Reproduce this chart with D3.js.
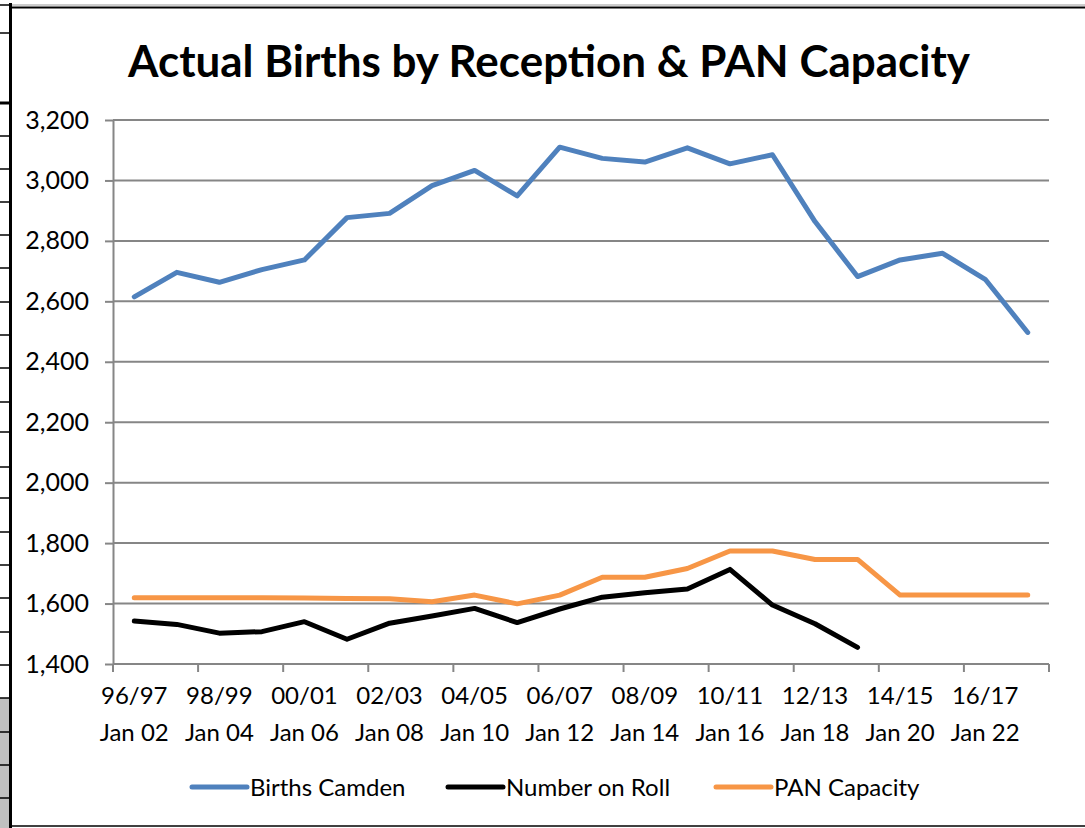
<!DOCTYPE html>
<html>
<head>
<meta charset="utf-8">
<script src="https://cdn.jsdelivr.net/npm/d3@7"></script>
<style>
  html, body { margin: 0; padding: 0; background: #fff; }
  svg { display: block; }
  text { font-family: Lato, "Open Sans", sans-serif; fill: #000; }
</style>
</head>
<body>
<svg id="chart" width="1085" height="828"></svg>
<script>
// school year of birth cohort / reception intake (Jan)
const birthYears = ["96/97","97/98","98/99","99/00","00/01","01/02","02/03","03/04","04/05","05/06",
  "06/07","07/08","08/09","09/10","10/11","11/12","12/13","13/14","14/15","15/16","16/17","17/18"];
const intakes = ["Jan 02","Jan 03","Jan 04","Jan 05","Jan 06","Jan 07","Jan 08","Jan 09","Jan 10","Jan 11",
  "Jan 12","Jan 13","Jan 14","Jan 15","Jan 16","Jan 17","Jan 18","Jan 19","Jan 20","Jan 21","Jan 22","Jan 23"];

const birthsCamden = [2615, 2696, 2663, 2705, 2737, 2877, 2891, 2983, 3033, 2949, 3110,
  3073, 3061, 3108, 3055, 3085, 2864, 2682, 2737, 2759, 2673, 2497];
const numberOnRoll = [1542, 1531, 1502, 1507, 1540, 1482, 1535, 1559, 1584, 1537, 1582,
  1621, 1636, 1648, 1713, 1595, 1533, 1455, null, null, null, null];
const panCapacity = [1619, 1619, 1619, 1619, 1618, 1617, 1616, 1606, 1628, 1599, 1628,
  1687, 1687, 1716, 1774, 1774, 1746, 1746, 1628, 1628, 1628, 1628];

const yTicks = [1400, 1600, 1800, 2000, 2200, 2400, 2600, 2800, 3000, 3200];

const series = [
  { name: "Births Camden", values: birthsCamden, color: "#4F81BD" },
  { name: "Number on Roll", values: numberOnRoll, color: "#000000" },
  { name: "PAN Capacity", values: panCapacity, color: "#F79646" }
];

const svg = d3.select("#chart");
const gridColor = "#868686";

// spreadsheet frame around the chart
const frame = svg.append("g");
frame.append("rect").attr("x", 0).attr("y", 698).attr("width", 10).attr("height", 130).attr("fill", "#c0c0c0");
[5, 33, 103, 136, 169, 202, 235, 268, 302, 335, 368, 402, 432, 467, 498, 532, 565, 598, 632, 665, 698, 732, 765, 798]
  .forEach(yy => {
    frame.append("line").attr("x1", 0).attr("x2", 10).attr("y1", yy).attr("y2", yy)
      .attr("stroke", "#000").attr("stroke-width", yy === 103 ? 3 : 1.5);
  });
frame.append("line").attr("x1", 10).attr("x2", 1085).attr("y1", 5).attr("y2", 5).attr("stroke", "#999").attr("stroke-width", 1);
frame.append("line").attr("x1", 10).attr("x2", 1085).attr("y1", 7.5).attr("y2", 7.5).attr("stroke", "#000").attr("stroke-width", 2);
frame.append("line").attr("x1", 10).attr("x2", 1085).attr("y1", 826).attr("y2", 826).attr("stroke", "#000").attr("stroke-width", 1.5);
frame.append("line").attr("x1", 10.5).attr("x2", 10.5).attr("y1", 3).attr("y2", 828).attr("stroke", "#000").attr("stroke-width", 3);

// plot area
const plotLeft = 113, plotRight = 1049, plotTop = 120, plotBottom = 664;

const x = d3.scaleBand().domain(d3.range(birthYears.length)).range([plotLeft, plotRight]);
const y = d3.scaleLinear().domain([1400, 3200]).range([plotBottom, plotTop]);

// gridlines
svg.append("g").selectAll("line").data(yTicks.slice(1)).join("line")
  .attr("x1", plotLeft).attr("x2", plotRight)
  .attr("y1", d => y(d)).attr("y2", d => y(d))
  .attr("stroke", gridColor).attr("stroke-width", 2);

// y axis
const yAxis = svg.append("g").attr("transform", `translate(${plotLeft},0)`)
  .call(d3.axisLeft(y).tickValues(yTicks).tickFormat(d3.format(",")).tickSizeInner(8).tickSizeOuter(0).tickPadding(16));
yAxis.select(".domain").attr("stroke", gridColor).attr("stroke-width", 2);
yAxis.selectAll(".tick line").attr("stroke", gridColor).attr("stroke-width", 2);
yAxis.selectAll(".tick text").attr("font-size", 25).attr("font-family", "Lato, sans-serif").attr("fill", "#000");

// x axis
const xg = svg.append("g");
xg.append("line").attr("x1", plotLeft).attr("x2", plotRight).attr("y1", plotBottom).attr("y2", plotBottom)
  .attr("stroke", gridColor).attr("stroke-width", 2);
const boundaries = d3.range(0, birthYears.length + 1, 2);
xg.selectAll(".xt").data(boundaries).join("line").attr("class", "xt")
  .attr("x1", i => i < birthYears.length ? x(i) : x.range()[1])
  .attr("x2", i => i < birthYears.length ? x(i) : x.range()[1])
  .attr("y1", plotBottom).attr("y2", plotBottom + 8)
  .attr("stroke", gridColor).attr("stroke-width", 2);
// every other category labelled, centred on its category
const labelIdx = d3.range(0, birthYears.length, 2);
const xl = xg.selectAll(".xl").data(labelIdx).join("text").attr("class", "xl")
  .attr("text-anchor", "middle").attr("font-size", 24);
xl.append("tspan").attr("x", i => x(i) + x.bandwidth() / 2).attr("y", 704).text(i => birthYears[i]);
xl.append("tspan").attr("x", i => x(i) + x.bandwidth() / 2).attr("y", 741).text(i => intakes[i]);

// lines
const line = d3.line()
  .defined(d => d != null)
  .x((d, i) => x(i) + x.bandwidth() / 2)
  .y(d => y(d));

svg.append("g").selectAll("path").data(series).join("path")
  .attr("d", s => line(s.values))
  .attr("fill", "none")
  .attr("stroke", s => s.color)
  .attr("stroke-width", 5)
  .attr("stroke-linejoin", "round")
  .attr("stroke-linecap", "round");

// title
svg.append("text")
  .attr("x", 549).attr("y", 77)
  .attr("text-anchor", "middle")
  .attr("font-size", 44).attr("font-weight", "bold")
  .attr("textLength", 842).attr("lengthAdjust", "spacingAndGlyphs")
  .text("Actual Births by Reception & PAN Capacity");

// legend
const legendX = [192, 448, 716];
const legend = svg.append("g").selectAll("g").data(series).join("g")
  .attr("transform", (s, i) => `translate(${legendX[i]},787)`);
legend.append("line").attr("x1", 0).attr("x2", 55).attr("y1", 0).attr("y2", 0)
  .attr("stroke", s => s.color).attr("stroke-width", 5).attr("stroke-linecap", "round");
legend.append("text").attr("x", 58).attr("y", 8.5).attr("font-size", 24).text(s => s.name);
</script>
</body>
</html>
